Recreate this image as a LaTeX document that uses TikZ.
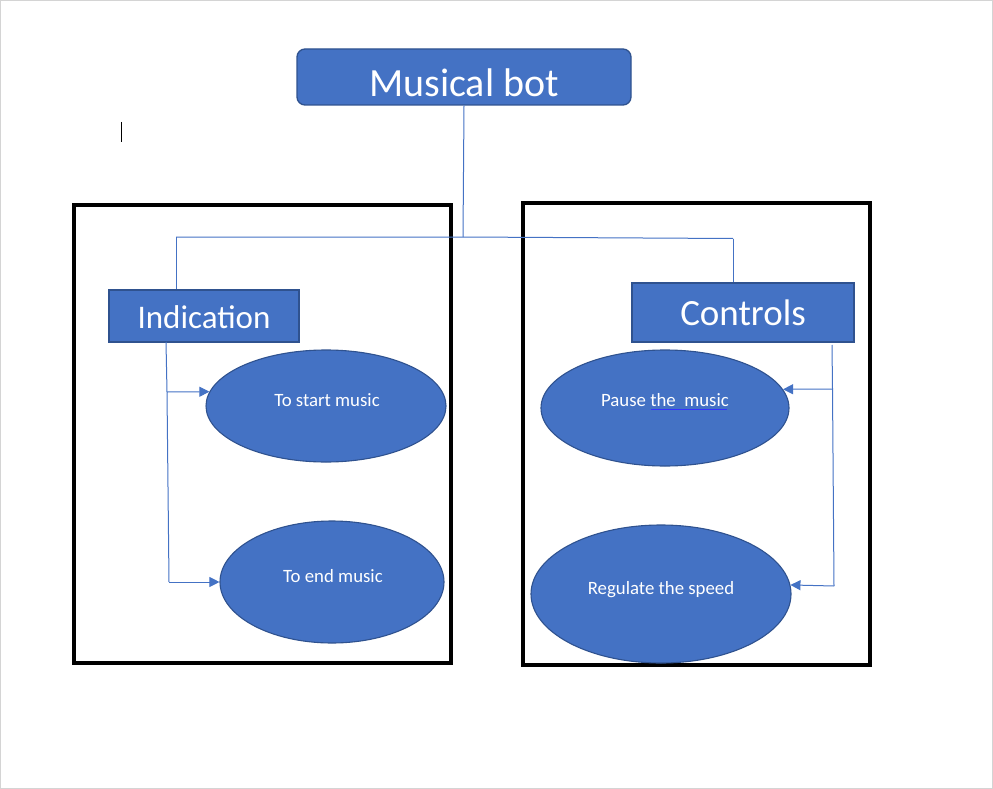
\documentclass[tikz,border=0pt]{standalone}
\usepackage{fontspec}
\setmainfont{Carlito}
\usetikzlibrary{arrows.meta,shapes.geometric}
\definecolor{boxfill}{HTML}{4472C4}
\definecolor{boxline}{HTML}{2F528F}
\definecolor{pageline}{HTML}{D4D4D4}
\tikzset{
  titlebox/.style={draw=boxline,fill=boxfill,line width=1.3pt,rounded corners=8pt,inner sep=0pt},
  catbox/.style={draw=boxline,fill=boxfill,line width=1.3pt,inner sep=0pt},
  oval/.style={ellipse,draw=boxline,fill=boxfill,line width=1.1pt,inner sep=0pt},
  frame/.style={draw=black,line width=3.5pt},
  conn/.style={draw=boxfill,line width=1pt},
  arr/.style={conn,-{Triangle[length=10pt,width=10pt]}},
  bigtxt/.style={text=white,font=\fontsize{40}{42}\selectfont,anchor=base,inner sep=0pt},
  midtxt/.style={text=white,font=\fontsize{33}{36}\selectfont,anchor=base,inner sep=0pt},
  smalltxt/.style={text=white,font=\fontsize{18.8}{20}\selectfont,anchor=base,inner sep=0pt},
}
\begin{document}
\begin{tikzpicture}[x=1pt,y=-1pt]
\useasboundingbox (0,0) rectangle (993,789);
\draw[pageline,line width=1pt] (0.5,0.5) rectangle (992.5,788.5);
% text cursor
\draw[black,line width=1pt] (121,122) -- (121,142);

% frames
\draw[frame] (74,205) rectangle (451,663);
\draw[frame] (523,203) rectangle (870,665);

% title
\node[titlebox,minimum width=334pt,minimum height=56pt] (bot) at (464,77) {};
\node[bigtxt] (bott) at (464,97) {Musical bot};

% category boxes
\node[catbox,minimum width=190pt,minimum height=52pt] (ind) at (204,316) {};
\node[midtxt] (indt) at (204,328) {Indication};
\node[catbox,minimum width=222pt,minimum height=59pt] (ctl) at (743,312.5) {};
\node[midtxt,font=\fontsize{37}{40}\selectfont] (ctlt) at (743,325) {Controls};

% ellipses
\node[oval,minimum width=240pt,minimum height=112pt] (start) at (326,406) {};
\node[smalltxt] (startt) at (327,406) {To start music};
\node[oval,minimum width=224pt,minimum height=122pt] (end) at (332,582) {};
\node[smalltxt] (endt) at (333,582) {To end music};
\node[oval,minimum width=248pt,minimum height=116pt] (pause) at (665,408) {};
\node[smalltxt] (pauset) at (665,406.5) {Pause the\ \ music};
\node[oval,minimum width=260pt,minimum height=138pt] (reg) at (661,594) {};
\node[smalltxt] (regt) at (661,594) {Regulate the speed};
% spell-check underline
\draw[blue!80!white,line width=0.6pt] (651,409.5) -- (727,409.5);

% connectors from title
\coordinate (j) at (463,237);
\coordinate (jl) at (176,237);
\coordinate (jr) at (733,238.5);
\draw[conn] (bot.south) -- (j);
\draw[conn] (jl) -- (j) -- (jr);
\draw[conn] (jl) -- (ind.north -| jl);
\draw[conn] (jr) -- (ctl.north -| jr);

% Indication branches
\coordinate (il) at (166,342);
\coordinate (ia) at (167,392);
\coordinate (ib) at (169,582);
\draw[conn] (il) -- (ia) -- (ib);
\draw[arr] (ia) -- (start.173);
\draw[arr] (ib) -- (end.west);

% Controls branches
\coordinate (cl) at (832,345);
\coordinate (ca) at (832.5,389);
\coordinate (cb) at (834,586);
\draw[conn] (cl) -- (ca) -- (cb);
\draw[arr] (ca) -- (pause.9);
\draw[arr] (cb) -- (reg.4);
\end{tikzpicture}
\end{document}
